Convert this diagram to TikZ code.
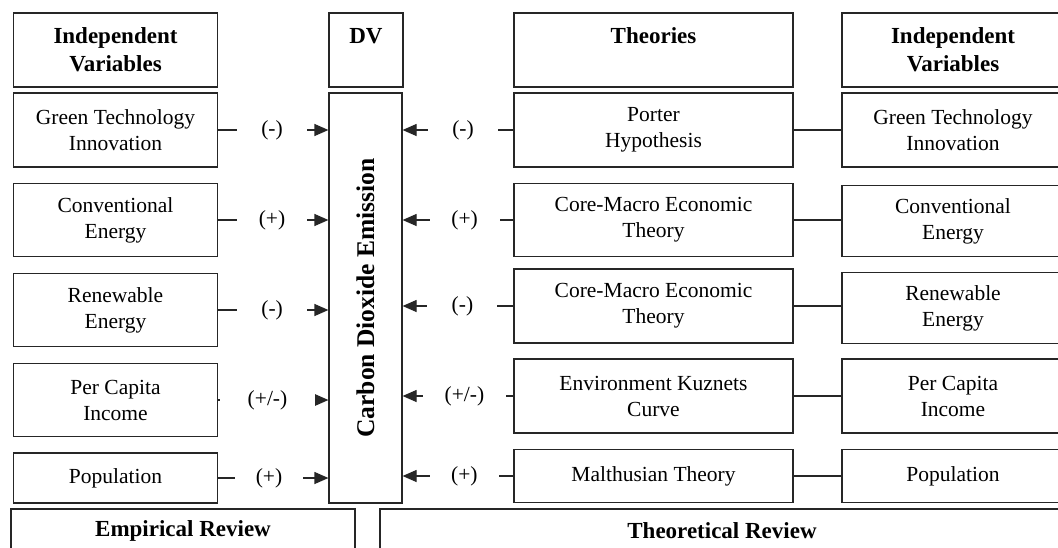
\documentclass[tikz,border=0pt]{standalone}
\usepackage{fontspec}
\setmainfont{Liberation Serif}
\usetikzlibrary{arrows.meta}
\begin{document}
\begin{tikzpicture}[x=1pt,y=-1pt,
  bx/.style={draw=black!85,line width=1.2pt,inner sep=0pt,align=center,font=\fontsize{21.5}{26}\selectfont},
  hd/.style={bx,font=\bfseries\fontsize{23}{28}\selectfont},
  ln/.style={draw=black!85,line width=1.2pt},
  arr/.style={ln,-{Triangle[length=14pt,width=12pt]}},
  lab/.style={fill=white,inner xsep=0pt,inner ysep=2pt,font=\fontsize{21.5}{26}\selectfont},
  lw/.style={minimum width=204pt},
  tw/.style={minimum width=279pt},
  rw/.style={minimum width=222pt},
]
\clip (0,0) rectangle (1058,547);
\fill[white] (0,0) rectangle (1058,547);

% headers
\node[hd,lw,minimum height=74pt] (hL) at (115.5,50) {Independent\\Variables};
\node[hd,minimum width=74pt,minimum height=74pt] (hDV) at (366,50) {DV\\\mbox{}};
\node[hd,tw,minimum height=74pt] (hT) at (653.5,50) {Theories\\\mbox{}};
\node[hd,rw,minimum height=74pt] (hR) at (953,50) {Independent\\Variables};

% left independent variables
\node[bx,lw,minimum height=74pt] (L1) at (115.5,130) {Green Technology\\Innovation};
\node[bx,lw,minimum height=73pt] (L2) at (115.5,220) {Conventional\\Energy};
\node[bx,lw,minimum height=73pt] (L3) at (115.5,310) {Renewable\\Energy};
\node[bx,lw,minimum height=73pt] (L4) at (115.5,400) {Per Capita\\Income};
\node[bx,lw,minimum height=50pt] (L5) at (115.5,478) {Population};

% dependent variable
\node[bx,minimum width=73pt,minimum height=410pt] (CO) at (365.5,298) {};
\node[rotate=90,font=\bfseries\fontsize{25.5}{28}\selectfont] (COt) at (CO.center) {Carbon Dioxide Emission};

% theories
\node[bx,tw,minimum height=74pt] (T1) at (653.5,130) {Porter\\Hypothesis};
\node[bx,tw,minimum height=73pt] (T2) at (653.5,220) {Core-Macro Economic\\Theory};
\node[bx,tw,minimum height=74pt] (T3) at (653.5,306) {Core-Macro Economic\\Theory};
\node[bx,tw,minimum height=74pt] (T4) at (653.5,396) {Environment Kuznets\\Curve};
\node[bx,tw,minimum height=53pt] (T5) at (653.5,476) {Malthusian Theory};

% right independent variables
\node[bx,rw,minimum height=74pt] (R1) at (953,130) {Green Technology\\Innovation};
\node[bx,rw,minimum height=71pt] (R2) at (953,221) {Conventional\\Energy};
\node[bx,rw,minimum height=71pt] (R3) at (953,308) {Renewable\\Energy};
\node[bx,rw,minimum height=74pt] (R4) at (953,396) {Per Capita\\Income};
\node[bx,rw,minimum height=53pt] (R5) at (953,476) {Population};

% bottom review boxes
\node[hd,minimum width=344pt,minimum height=44pt] (ER) at (183,531) {Empirical Review};
\node[hd,minimum width=684pt,minimum height=44pt] (TR) at (722,531) {Theoretical Review};

% left connectors
\draw[arr] (L1.east) -- node[lab,pos=.489,minimum width=70pt]{(-)} (L1.east -| CO.west);
\draw[arr] (L2.east) -- node[lab,pos=.489,minimum width=70pt]{(+)} (L2.east -| CO.west);
\draw[arr] (L3.east) -- node[lab,pos=.49,minimum width=70pt]{(-)} (L3.east -| CO.west);
\draw[arr] (L4.east) -- node[lab,pos=.448,minimum width=95pt]{(+/-)} (L4.east -| CO.west);
\draw[arr] (L5.east) -- node[lab,pos=.462,minimum width=68pt]{(+)} (L5.east -| CO.west);

% right connectors
\draw[arr] (T1.west) -- node[lab,pos=.455,minimum width=70pt]{(-)} (T1.west -| CO.east);
\draw[arr] (T2.west) -- node[lab,pos=.44,minimum width=70pt]{(+)} (T2.west -| CO.east);
\draw[arr] (T3.west) -- node[lab,pos=.46,minimum width=70pt]{(-)} (T3.west -| CO.east);
\draw[arr] (T4.west) -- node[lab,pos=.442,minimum width=83pt]{(+/-)} (T4.west -| CO.east);
\draw[arr] (T5.west) -- node[lab,pos=.442,minimum width=69pt]{(+)} (T5.west -| CO.east);

% theory to variable links
\draw[ln] (T1.east) -- (T1.east -| R1.west);
\draw[ln] (T2.east) -- (T2.east -| R2.west);
\draw[ln] (T3.east) -- (T3.east -| R3.west);
\draw[ln] (T4.east) -- (T4.east -| R4.west);
\draw[ln] (T5.east) -- (T5.east -| R5.west);
\end{tikzpicture}
\end{document}
